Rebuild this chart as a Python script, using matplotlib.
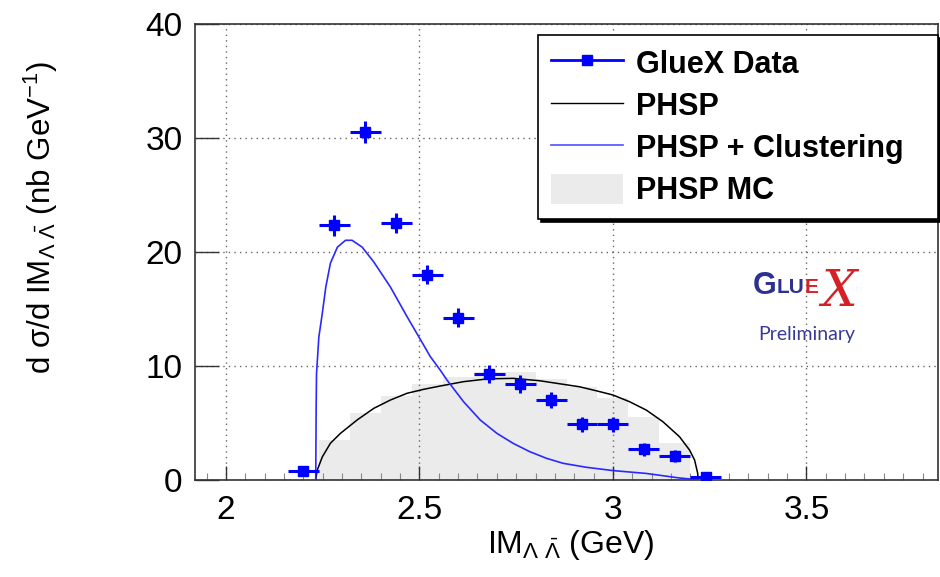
import numpy as np
import matplotlib
matplotlib.use("Agg")
import matplotlib.pyplot as plt
from matplotlib.lines import Line2D
from matplotlib.patches import Patch

plt.rcParams['font.family'] = ['Liberation Sans', 'DejaVu Sans']
plt.rcParams['mathtext.fontset'] = 'custom'
plt.rcParams['mathtext.rm'] = 'Liberation Sans'
plt.rcParams['mathtext.it'] = 'Liberation Sans:italic'
plt.rcParams['mathtext.bf'] = 'Liberation Sans:bold'

# GlueX data points (bin centres, 0.08 GeV bins)
x_data = [2.20, 2.28, 2.36, 2.44, 2.52, 2.60, 2.68, 2.76, 2.84, 2.92, 3.00, 3.08, 3.16, 3.24]
y_data = [0.8, 22.3, 30.5, 22.5, 18.0, 14.2, 9.3, 8.4, 7.0, 4.85, 4.85, 2.65, 2.1, 0.2]
y_err = [0.3, 0.92, 0.95, 0.88, 0.82, 0.82, 0.78, 0.76, 0.73, 0.66, 0.66, 0.54, 0.54, 0.3]
x_err = 0.04

# PHSP MC histogram
mc_edges = [2.16, 2.24, 2.32, 2.40, 2.48, 2.56, 2.64, 2.72, 2.80, 2.88, 2.96, 3.04, 3.12, 3.20, 3.28]
mc_vals = [0.0, 3.48, 5.85, 7.3, 8.42, 9.04, 9.47, 9.47, 8.85, 8.16, 7.14, 5.53, 3.19, 0.0]

# PHSP curve
phsp_x = [2.232, 2.236, 2.249, 2.270, 2.296, 2.339, 2.382, 2.425, 2.468, 2.511, 2.554, 2.614,
          2.678, 2.742, 2.811, 2.871, 2.914, 2.957, 3.000, 3.043, 3.086, 3.129, 3.172, 3.198,
          3.211, 3.219, 3.220]
phsp_y = [0.0, 0.85, 2.0, 3.2, 4.07, 5.24, 6.26, 6.99, 7.58, 7.93, 8.22, 8.6,
          8.85, 8.89, 8.68, 8.37, 8.15, 7.8, 7.43, 6.84, 6.11, 5.09, 3.77, 2.6,
          1.73, 0.56, 0.0]

# PHSP + Clustering curve
clus_x = [2.232, 2.233, 2.234, 2.240, 2.249, 2.258, 2.270, 2.288, 2.309, 2.326, 2.352, 2.382,
          2.425, 2.468, 2.511, 2.528, 2.554, 2.571, 2.614, 2.657, 2.700, 2.742, 2.785, 2.828,
          2.871, 2.931, 3.000, 3.086, 3.172, 3.220]
clus_y = [0.0, 6.0, 9.3, 12.5, 14.6, 16.9, 19.0, 20.4, 21.0, 21.0, 20.4, 19.1,
          16.9, 14.3, 11.8, 10.8, 9.6, 8.75, 6.84, 5.24, 4.07, 3.19, 2.46, 1.88,
          1.44, 1.09, 0.8, 0.55, 0.15, 0.0]

fig = plt.figure(figsize=(9.4, 5.77), dpi=100)
ax = fig.add_axes([195 / 940, 1 - 479.7 / 577, 743 / 940, 456 / 577])

ax.stairs(mc_vals, mc_edges, fill=True, color='#ebebeb', zorder=1)
ax.plot(phsp_x, phsp_y, color='black', lw=1.1, zorder=3)
ax.plot(clus_x, clus_y, color='#2a2aff', lw=1.2, zorder=3)
ax.errorbar(x_data, y_data, xerr=x_err, yerr=y_err, fmt='s', color='#0000ff',
            markersize=7, elinewidth=2.2, capsize=0, zorder=4)

ax.set_xlim(1.92, 3.84)
ax.set_ylim(0, 40)
ax.set_xticks([2, 2.5, 3, 3.5])
ax.set_xticklabels(['2', '2.5', '3', '3.5'])
ax.set_xticks(np.arange(1.95, 3.84, 0.05), minor=True)
ax.set_yticks([0, 10, 20, 30, 40])
ax.tick_params(axis='x', which='major', direction='in', length=10, width=1, color='#333333',
               labelsize=24, pad=11)
ax.tick_params(axis='x', which='minor', direction='in', length=5, width=0.8, color='#888888')
ax.tick_params(axis='y', which='major', direction='in', length=17, width=1, color='#333333',
               labelsize=24, pad=9)
ax.grid(True, which='major', linestyle=(0, (1, 3)), color='#666666', linewidth=1)
ax.set_axisbelow('line')
for s in ax.spines.values():
    s.set_color('#333333')
    s.set_linewidth(1.2)

ax.set_xlabel(r'IM$_{\Lambda\ \bar{\Lambda}}$ (GeV)', fontsize=23)
ax.xaxis.set_label_coords(0.505, -0.105)
ax.set_ylabel(r'd σ/d IM$_{\Lambda\ \bar{\Lambda}}$ (nb GeV$^{-1}$)', fontsize=22.5)
ax.yaxis.set_label_coords(-0.182, 0.574)

handles = [
    Line2D([], [], color='#0000ff', lw=2, marker='s', markersize=7),
    Line2D([], [], color='black', lw=1),
    Line2D([], [], color='#5050ff', lw=1.2),
    Patch(facecolor='#ebebeb', edgecolor='none'),
]
labels = ['GlueX Data', 'PHSP', 'PHSP + Clustering', 'PHSP MC']
leg = ax.legend(handles, labels, loc='upper left', bbox_to_anchor=(0.4617, 0.57, 0.5383, 0.405),
                mode='expand', borderaxespad=0, prop={'weight': 'bold', 'size': 22},
                frameon=True, fancybox=False, framealpha=1, edgecolor='black',
                handlelength=2.36, handleheight=1.1, handletextpad=0.42, labelspacing=0.33,
                borderpad=0.42,
                shadow={'facecolor': 'black', 'edgecolor': 'black', 'alpha': 1})
leg.get_frame().set_linewidth(1.2)

# GlueX logo
tr = ax.transAxes
ax.text(0.751, 0.424, 'G', transform=tr, fontsize=22, fontweight='bold', color='#2e3192',
        ha='left', va='center')
ax.text(0.783, 0.422, 'LU', transform=tr, fontsize=15, fontweight='bold', color='#2e3192',
        ha='left', va='center')
ax.text(0.8205, 0.422, 'E', transform=tr, fontsize=15, fontweight='bold', color='#d42027',
        ha='left', va='center')
ax.text(0.843, 0.412, 'X', transform=tr, fontsize=36, style='italic', color='#d42027',
        family='DejaVu Serif', ha='left', va='center')
ax.text(0.824, 0.318, 'Preliminary', transform=tr, fontsize=14, color='#3a3a96',
        family='Lato', ha='center', va='center')

fig.savefig('out.png', dpi=100)
